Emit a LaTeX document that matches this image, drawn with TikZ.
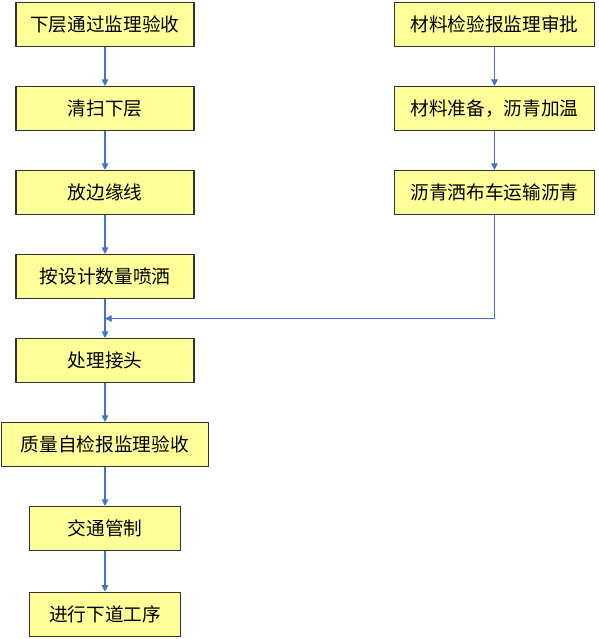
\documentclass[tikz,border=0pt]{standalone}
\usepackage{fontspec}
\newfontfamily\cjk{Noto Sans CJK SC}
\usetikzlibrary{arrows.meta, positioning, calc}
\definecolor{boxfill}{RGB}{255,255,153}
\definecolor{linkblue}{RGB}{68,114,196}

\begin{document}
\begin{tikzpicture}[
    x=0.75pt, y=-0.75pt,
    >={Triangle[width=5pt,length=5pt]},
    box/.style={draw=black!80, fill=boxfill, line width=0.8pt,
                minimum width=133.5pt, minimum height=33pt, inner sep=0pt,
                font=\cjk\fontsize{14pt}{16pt}\selectfont},
    link/.style={->, draw=linkblue, line width=0.8pt},
    node distance=29.2pt
  ]
  \useasboundingbox (0,0) rectangle (599,639);

  % left column
  \node[box] (a1) at (105,24.5) {下层通过监理验收};
  \node[box, below=of a1] (a2) {清扫下层};
  \node[box, below=of a2] (a3) {放边缘线};
  \node[box, below=of a3] (a4) {按设计数量喷洒};
  \node[box, below=of a4] (a5) {处理接头};
  \node[box, minimum width=155pt, below=of a5] (a6) {质量自检报监理验收};
  \node[box, minimum width=113pt, below=of a6] (a7) {交通管制};
  \node[box, minimum width=113pt, below=30.5pt of a7] (a8) {进行下道工序};

  % right column
  \node[box, minimum width=150pt] (b1) at (494.5,24.5) {材料检验报监理审批};
  \node[box, minimum width=150pt, below=of b1] (b2) {材料准备，沥青加温};
  \node[box, minimum width=150pt, below=of b2] (b3) {沥青洒布车运输沥青};

  \draw[link] (a1) -- (a2);
  \draw[link] (a2) -- (a3);
  \draw[link] (a3) -- (a4);
  \draw[link] (a4) -- (a5);
  \draw[link] (a5) -- (a6);
  \draw[link] (a6) -- (a7);
  \draw[link] (a7) -- (a8);
  \draw[link] (b1) -- (b2);
  \draw[link] (b2) -- (b3);

  % join into left column
  \coordinate (m) at ($(a4.south)!0.5!(a5.north)$);
  \draw[link] (b3.south) |- (m);
\end{tikzpicture}
\end{document}
